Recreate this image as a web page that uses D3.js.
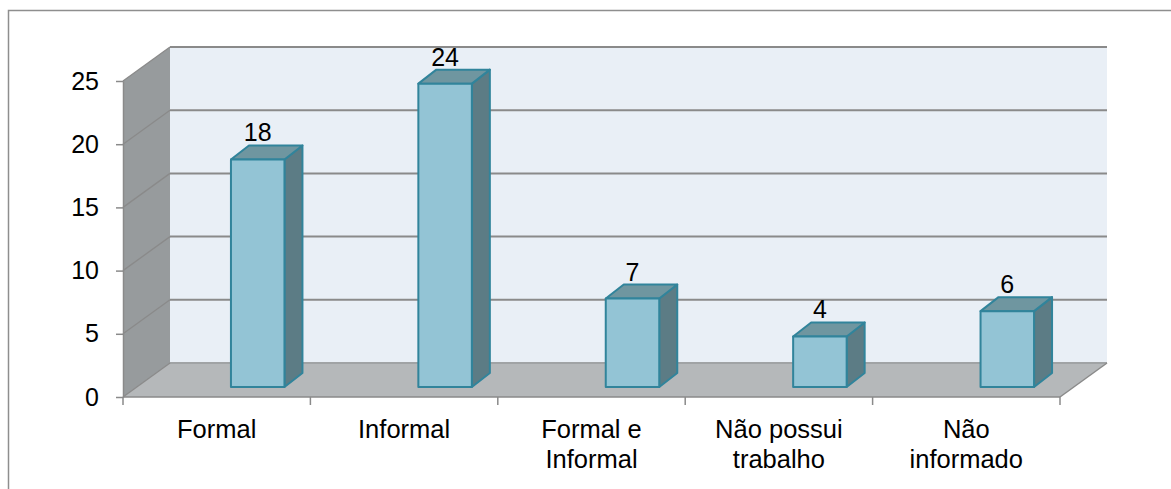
<!DOCTYPE html>
<html>
<head>
<meta charset="utf-8">
<script src="https://cdn.jsdelivr.net/npm/d3@7"></script>
<style>
  html, body { margin: 0; padding: 0; background: #fff; }
  svg { display: block; font-family: Arial, "Liberation Sans", sans-serif; }
</style>
</head>
<body>
<svg id="chart" width="1171" height="489"></svg>
<script>
// ---- data ----
const categories = ["Formal", "Informal", "Formal e Informal", "Não possui trabalho", "Não informado"];
const categoryLines = [["Formal"], ["Informal"], ["Formal e", "Informal"], ["Não possui", "trabalho"], ["Não", "informado"]];
const values = [18, 24, 7, 4, 6];
const yTicks = [0, 5, 10, 15, 20, 25];

// ---- layout ----
const svg = d3.select("#chart");
const X0 = 123, X1 = 1060, Y0 = 397, YTOP = 81;
const DX = 47, DY = 34;           // wall depth offset
const BAR_W = 53.5, BAR_SHIFT = 41, BAR_LIFT = 10; // bar front face placement
const BDX = 18, BDY = 14;         // bar depth

const x = d3.scaleBand().domain(categories).range([X0, X1]).padding(0);
const y = d3.scaleLinear().domain([0, 25]).range([Y0, YTOP]);

// outer border
svg.append("path").attr("d", `M8.5,489 L8.5,10.5 L1171,10.5`)
  .attr("fill", "none").attr("stroke", "#8e8e8e").attr("stroke-width", 1.5);

// back wall
svg.append("rect").attr("x", X0 + DX).attr("y", y(25) - DY)
  .attr("width", X1 - X0).attr("height", y(0) - y(25))
  .attr("fill", "#e9eff6");
// left side wall
svg.append("path")
  .attr("d", `M${X0},${y(25)} L${X0 + DX},${y(25) - DY} L${X0 + DX},${y(0) - DY} L${X0},${y(0)} Z`)
  .attr("fill", "#979b9d");
// floor
svg.append("path")
  .attr("d", `M${X0},${y(0)} L${X0 + DX},${y(0) - DY} L${X1 + DX},${y(0) - DY} L${X1},${y(0)} Z`)
  .attr("fill", "#b5b8ba");

// gridlines (back wall + side wall diagonals)
const grid = svg.append("g");
yTicks.forEach(t => {
  grid.append("line").attr("x1", X0 + DX).attr("x2", X1 + DX)
    .attr("y1", y(t) - DY).attr("y2", y(t) - DY)
    .attr("stroke", t === 0 ? "#a0a3a5" : "#8a8a8a").attr("stroke-width", 2);
  grid.append("line").attr("x1", X0).attr("y1", y(t))
    .attr("x2", X0 + DX).attr("y2", y(t) - DY)
    .attr("stroke", "#8a8a8a").attr("stroke-width", 1.3);
});
// floor right edge
grid.append("line").attr("x1", X1).attr("y1", y(0)).attr("x2", X1 + DX).attr("y2", y(0) - DY)
  .attr("stroke", "#8a8a8a").attr("stroke-width", 1.5);

// y axis
const yAxis = svg.append("g").attr("transform", `translate(${X0},0)`)
  .call(d3.axisLeft(y).tickValues(yTicks).tickSize(7).tickPadding(17).tickSizeOuter(0));
yAxis.select(".domain").attr("stroke", "#8a8a8a").attr("stroke-width", 1.5);
yAxis.selectAll(".tick line").attr("stroke", "#8a8a8a").attr("stroke-width", 1.5);
yAxis.selectAll(".tick text").attr("font-size", 25).attr("fill", "#000")
  .attr("font-family", "Arial, 'Liberation Sans', sans-serif");

// x axis line and boundary ticks
const xAxis = svg.append("g");
xAxis.append("line").attr("x1", X0).attr("x2", X1).attr("y1", Y0).attr("y2", Y0)
  .attr("stroke", "#8a8a8a").attr("stroke-width", 1.5);
const bounds = categories.map(c => x(c)).concat([x.range()[1]]);
xAxis.selectAll("line.bt").data(bounds).enter().append("line").attr("class", "bt")
  .attr("x1", d => d).attr("x2", d => d).attr("y1", Y0).attr("y2", Y0 + 8)
  .attr("stroke", "#8a8a8a").attr("stroke-width", 1.5);

// x labels
const labels = svg.append("g");
categories.forEach((c, i) => {
  const t = labels.append("text").attr("x", x(c) + x.bandwidth() / 2).attr("y", 438)
    .attr("text-anchor", "middle").attr("font-size", 25.5).attr("fill", "#000");
  categoryLines[i].forEach((ln, j) => {
    t.append("tspan").attr("x", x(c) + x.bandwidth() / 2).attr("dy", j === 0 ? 0 : 30).text(ln);
  });
});

// bars
const bars = svg.append("g");
categories.forEach((c, i) => {
  const v = values[i];
  const cx = x(c) + x.bandwidth() / 2 + BAR_SHIFT;
  const l = cx - BAR_W / 2, r = cx + BAR_W / 2;
  const b = y(0) - BAR_LIFT, t = y(v) - BAR_LIFT;
  const g = bars.append("g").attr("stroke", "#31849b").attr("stroke-width", 2).attr("stroke-linejoin", "round");
  // side
  g.append("path").attr("d", `M${r},${t} L${r + BDX},${t - BDY} L${r + BDX},${b - BDY} L${r},${b} Z`)
    .attr("fill", "#5c7c85");
  // top
  g.append("path").attr("d", `M${l},${t} L${l + BDX},${t - BDY} L${r + BDX},${t - BDY} L${r},${t} Z`)
    .attr("fill", "#6f96a0");
  // front
  g.append("rect").attr("x", l).attr("y", t).attr("width", BAR_W).attr("height", b - t)
    .attr("fill", "#93c4d5");
  // value label
  bars.append("text").attr("x", cx).attr("y", t - BDY - 4)
    .attr("text-anchor", "middle").attr("font-size", 25).attr("fill", "#000").text(v);
});
</script>
</body>
</html>
